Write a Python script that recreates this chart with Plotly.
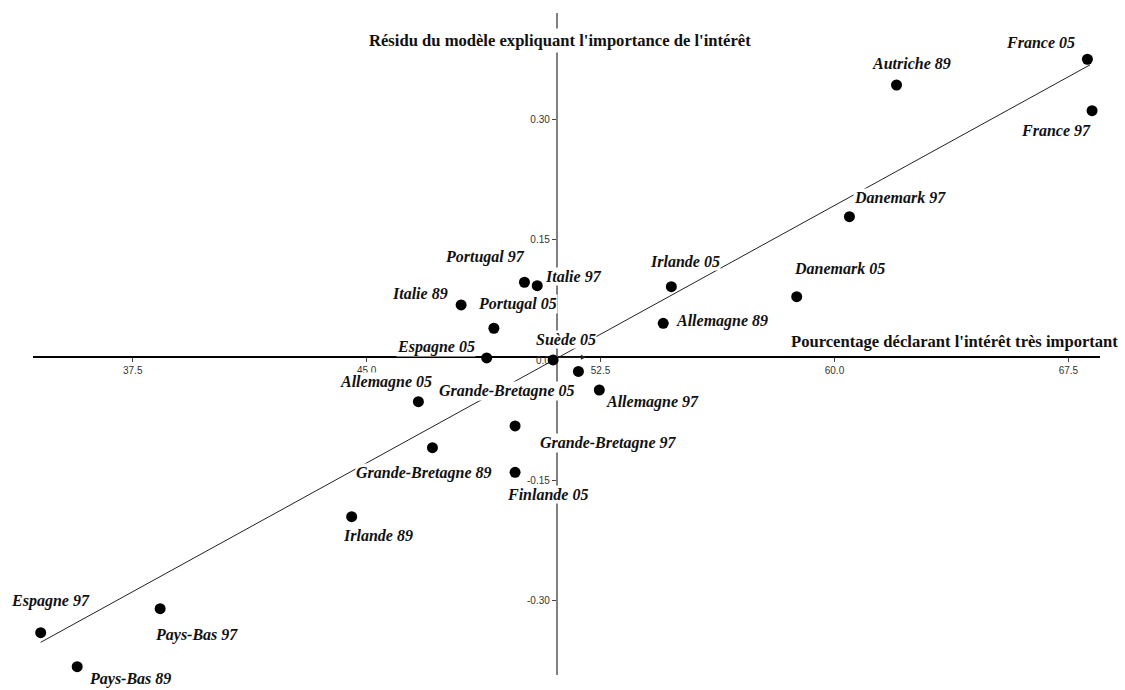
import plotly.graph_objects as go

# données
pays = ["France 05", "France 97", "Autriche 89", "Danemark 97", "Danemark 05",
        "Irlande 05", "Allemagne 89", "Italie 97", "Portugal 97", "Italie 89",
        "Portugal 05", "Espagne 05", "Suède 05", "Grande-Bretagne 05", "Allemagne 97",
        "Allemagne 05", "Grande-Bretagne 97", "Grande-Bretagne 89", "Finlande 05",
        "Irlande 89", "Espagne 97", "Pays-Bas 97", "Pays-Bas 89"]
pourcentage = [68.11, 68.26, 61.99, 60.48, 58.79,
               54.77, 54.51, 50.47, 50.06, 48.03,
               49.08, 48.85, 50.98, 51.79, 52.46,
               46.66, 49.76, 47.11, 49.76,
               44.52, 34.55, 38.38, 35.72]
residu = [0.3748, 0.3107, 0.3427, 0.1787, 0.0790,
          0.0915, 0.0459, 0.0927, 0.0970, 0.0687,
          0.0397, 0.0027, 0.0002, -0.0140, -0.0372,
          -0.0518, -0.0820, -0.1091, -0.1397,
          -0.1950, -0.3395, -0.3096, -0.3819]

# droite de régression
droite_x = [34.55, 68.19]
droite_y = [-0.3515, 0.3677]

x_ticks = [37.5, 45.0, 52.5, 60.0, 67.5]
y_ticks = [-0.30, -0.15, 0.0, 0.15, 0.30]
y_ticklabels = ["-0.30", "-0.15", "0.0", "0.15", "0.30"]

# décalage des étiquettes en pixels (dx, dy vers le bas)
decalages = [(-47, -17), (-36.5, 20), (15, -22), (51, -19.5), (42.5, -28),
             (14, -25), (58.5, -2.5), (36.4, -9.7), (-39.3, -25.6), (-40.7, -11.7),
             (24, -24.3), (-50.7, -11.3), (13, -20.7), (-71.6, 20), (53.2, 12.3),
             (-32.3, -20), (93.3, 16.7), (-8, 25), (32.5, 22.7),
             (26.3, 19), (9.8, -32), (36, 26.3), (52.7, 12.3)]

x_range = [34.303, 68.514]
y_range = [-0.3922, 0.4324]
origine_x = 51.09
origine_y = 0.0036

# zone de tracé en pixels
L, R, T, B = 33, 1100, 13, 675


def paper_x(px):
    return (px - L) / (R - L)


def paper_y(py):
    return (B - py) / (B - T)


serif = "Liberation Serif"

fig = go.Figure()
fig.add_trace(go.Scatter(x=droite_x, y=droite_y, mode="lines",
                         line=dict(color="#222222", width=1), hoverinfo="skip"))
fig.add_trace(go.Scatter(x=pourcentage, y=residu, mode="markers", text=pays,
                         marker=dict(color="black", size=11), cliponaxis=False))

for nom, px_, py_, (dx, dy) in zip(pays, pourcentage, residu, decalages):
    fig.add_annotation(x=px_, y=py_, text=nom, showarrow=False,
                       xanchor="center", yanchor="middle",
                       xshift=dx, yshift=-dy, bgcolor="white", borderpad=0,
                       font=dict(family=serif, size=16, color="#111111",
                                 weight="bold", style="italic"))

# petite flèche près de l'origine
fig.add_annotation(x=52.03, y=origine_y, ax=origine_x, ay=origine_y,
                   xref="x", yref="y", axref="x", ayref="y", text="",
                   showarrow=True, arrowhead=2, arrowsize=1, arrowwidth=1,
                   arrowcolor="#222222")

# titres des axes
fig.add_annotation(x=paper_x(954.5), y=paper_y(341), xref="paper", yref="paper",
                   xanchor="center", yanchor="middle",
                   text="Pourcentage déclarant l'intérêt très important",
                   showarrow=False, bgcolor="white", borderpad=0,
                   font=dict(family=serif, size=16.6, color="#111111", weight="bold"))
fig.add_annotation(x=paper_x(560), y=paper_y(40), xref="paper", yref="paper",
                   xanchor="center", yanchor="middle",
                   text="Résidu du modèle expliquant l'importance de l'intérêt",
                   showarrow=False, bgcolor="white", borderpad=2,
                   font=dict(family=serif, size=16.6, color="#111111", weight="bold"))

pos_x = (origine_y - y_range[0]) / (y_range[1] - y_range[0])
pos_y = (origine_x - x_range[0]) / (x_range[1] - x_range[0])

tick_font = dict(family="Liberation Sans", size=10, color="#333333")

fig.update_layout(
    width=1125, height=690,
    margin=dict(l=L, r=1125 - R, t=T, b=690 - B),
    paper_bgcolor="white", plot_bgcolor="white",
    showlegend=False,
    xaxis=dict(range=x_range, anchor="free", position=pos_x, showgrid=False,
               zeroline=False, showline=True, linecolor="black", linewidth=1.5,
               tickvals=x_ticks, ticktext=[f"{v:.1f}" for v in x_ticks],
               ticks="outside", ticklen=4, tickcolor="#444444",
               tickfont=tick_font, layer="below traces"),
    yaxis=dict(range=y_range, anchor="free", position=pos_y, showgrid=False,
               zeroline=False, showline=True, linecolor="#808080", linewidth=1.5,
               tickvals=y_ticks, ticktext=y_ticklabels,
               ticks="outside", ticklen=4, tickcolor="#444444",
               tickfont=tick_font, layer="below traces"),
)

fig.write_html("out.html", config={"displayModeBar": False},
               post_script="document.body.style.margin='0';")
